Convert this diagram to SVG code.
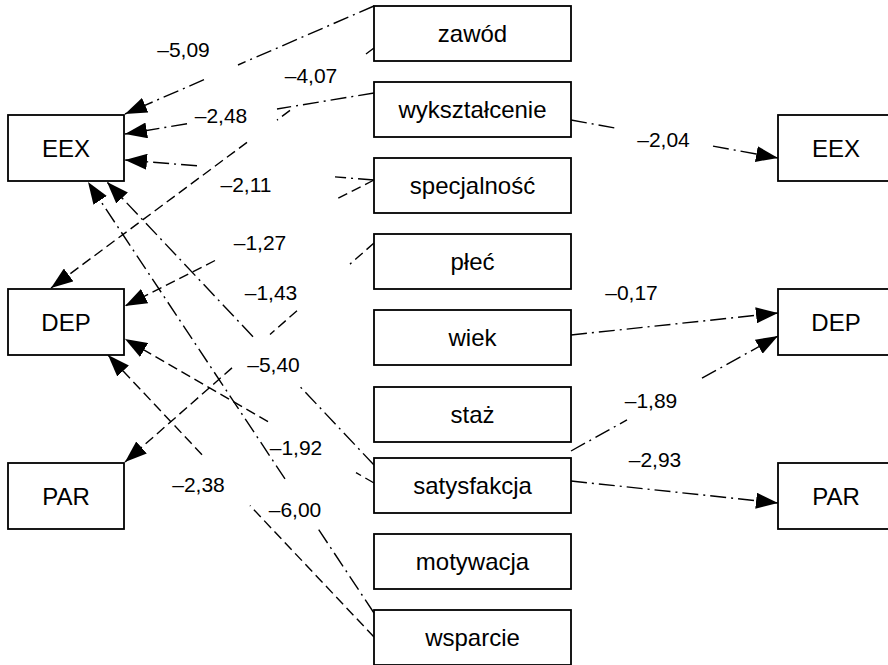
<svg xmlns="http://www.w3.org/2000/svg" width="888" height="665" viewBox="0 0 888 665">
  <defs>
    <marker id="arrow" viewBox="0 0 22 16" markerWidth="22" markerHeight="16" refX="22" refY="8" orient="auto" markerUnits="userSpaceOnUse">
      <path d="M0,0 L22,8 L0,16 Z" fill="#000"/>
    </marker>
    <style>
      .box { fill: #fff; stroke: #000; stroke-width: 1.8; }
      .name { font-family: "Liberation Sans", Arial, Helvetica, sans-serif; font-size: 24px; fill: #000; text-anchor: middle; }
      .coef { font-family: "Liberation Sans", Arial, Helvetica, sans-serif; font-size: 21px; fill: #000; text-anchor: middle; }
      .link { fill: none; stroke: #000; stroke-width: 1.4; marker-end: url(#arrow); }
      .dashdot { stroke-dasharray: 16 5 2 5; }
      .dashed { stroke-dasharray: 10 5; }
    </style>
  </defs>
  <rect width="888" height="665" fill="#fff"/>

  <!-- paths between predictors and outcomes -->
  <g id="connectors">
    <path class="link dashdot" d="M374,6 L238,65 M204,79.7 L125,114"/>
    <path class="link dashed" d="M374,48 L363,56.2 M290,110.4 L277,120.1 M247,142.4 L51,288"/>
    <path class="link dashdot" d="M374,93 L277,109 M187,123.8 L125,134"/>
    <path class="link dashdot" d="M374,180 L335,176.9 M197,165.8 L125,160"/>
    <path class="link dashed" d="M374,180 L335,199.7 M215,260.5 L125,306"/>
    <path class="link dashed" d="M374,243 L350,264.1 M297,310.7 L270,334.5 M232,367.9 L125,462"/>
    <path class="link dashdot" d="M374,465 L298,384.4 M253,336.7 L107,182"/>
    <path class="link dashed" d="M374,483 L356,472.6 M268,421.7 L125,339"/>
    <path class="link dashdot" d="M374,613 L317,527.1 M285,478.9 L88,182"/>
    <path class="link dashed" d="M374,637 L250,505.6 M202,454.7 L108,355"/>
    <path class="link dashdot" d="M571,120 L617,128.4 M713,146.1 L778,158"/>
    <path class="link dashdot" d="M571,335 L778,313"/>
    <path class="link dashdot" d="M571,451 L627,419.9 M702,378.2 L778,336"/>
    <path class="link dashdot" d="M571,481 L778,503"/>
  </g>

  <!-- coefficients -->
  <g id="coefficients">
    <text class="coef" x="183.5" y="57">–5,09</text>
    <text class="coef" x="311" y="83">–4,07</text>
    <text class="coef" x="221" y="123">–2,48</text>
    <text class="coef" x="246" y="192">–2,11</text>
    <text class="coef" x="260" y="250">–1,27</text>
    <text class="coef" x="271" y="300">–1,43</text>
    <text class="coef" x="273.5" y="372">–5,40</text>
    <text class="coef" x="296" y="455">–1,92</text>
    <text class="coef" x="198.5" y="492">–2,38</text>
    <text class="coef" x="295" y="517">–6,00</text>
    <text class="coef" x="663.5" y="147">–2,04</text>
    <text class="coef" x="631.5" y="300">–0,17</text>
    <text class="coef" x="651" y="408">–1,89</text>
    <text class="coef" x="655" y="467">–2,93</text>
  </g>

  <!-- outcomes, left column -->
  <g id="eex-left"><rect class="box" x="8" y="115" width="116" height="66"/><text class="name" x="66" y="156.5">EEX</text></g>
  <g id="dep-left"><rect class="box" x="8" y="289" width="116" height="66"/><text class="name" x="66" y="330.5">DEP</text></g>
  <g id="par-left"><rect class="box" x="8" y="463" width="116" height="66"/><text class="name" x="66" y="504.5">PAR</text></g>

  <!-- predictors, middle column -->
  <g id="zawod"><rect class="box" x="374" y="6" width="197" height="55"/><text class="name" x="472.5" y="42">zawód</text></g>
  <g id="wyksztalcenie"><rect class="box" x="374" y="82" width="197" height="55"/><text class="name" x="472.5" y="118">wykształcenie</text></g>
  <g id="specjalnosc"><rect class="box" x="374" y="158" width="197" height="55"/><text class="name" x="472.5" y="194">specjalność</text></g>
  <g id="plec"><rect class="box" x="374" y="234" width="197" height="55"/><text class="name" x="472.5" y="270">płeć</text></g>
  <g id="wiek"><rect class="box" x="374" y="310" width="197" height="55"/><text class="name" x="472.5" y="346">wiek</text></g>
  <g id="staz"><rect class="box" x="374" y="387" width="197" height="55"/><text class="name" x="472.5" y="423">staż</text></g>
  <g id="satysfakcja"><rect class="box" x="374" y="458" width="197" height="55"/><text class="name" x="472.5" y="494">satysfakcja</text></g>
  <g id="motywacja"><rect class="box" x="374" y="534" width="197" height="55"/><text class="name" x="472.5" y="570">motywacja</text></g>
  <g id="wsparcie"><rect class="box" x="374" y="610" width="197" height="55"/><text class="name" x="472.5" y="646">wsparcie</text></g>

  <!-- outcomes, right column -->
  <g id="eex-right"><rect class="box" x="778" y="115" width="116" height="66"/><text class="name" x="836" y="156.5">EEX</text></g>
  <g id="dep-right"><rect class="box" x="778" y="289" width="116" height="66"/><text class="name" x="836" y="330.5">DEP</text></g>
  <g id="par-right"><rect class="box" x="778" y="463" width="116" height="66"/><text class="name" x="836" y="504.5">PAR</text></g>
</svg>
